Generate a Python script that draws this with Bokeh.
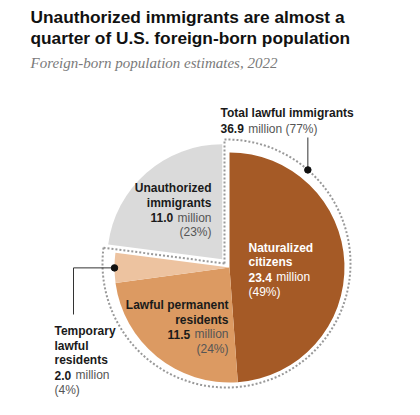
import math
import numpy as np
from bokeh.plotting import figure
from bokeh.models import Range1d
from bokeh.core.properties import value
from bokeh.embed import file_html
from bokeh.resources import INLINE

# ---------------- data ----------------
categories = ["Naturalized citizens", "Lawful permanent residents",
              "Temporary lawful residents", "Unauthorized immigrants"]
values = [23.4, 11.5, 2.0, 11.0]          # millions
percents = [49, 24, 4, 23]
colors = ["#A55A26", "#DC9A62", "#EDC3A0", "#DADADA"]
lawful_total = 36.9
lawful_pct = 77

title_lines = ["Unauthorized immigrants are almost a",
               "quarter of U.S. foreign-born population"]
subtitle = "Foreign-born population estimates, 2022"

# ---------------- layout ----------------
W, H = 404, 399
def Y(py):            # page pixel y -> data y
    return 415 - py

FONT = "Liberation Sans"
SERIF = "Liberation Serif"

p = figure(width=W, height=H, x_range=Range1d(8, 412), y_range=Range1d(8, 407),
           output_backend="svg", toolbar_location=None, min_border=0,
           x_axis_location=None, y_axis_location=None)
p.grid.visible = False
p.outline_line_color = None
p.background_fill_color = "white"

# pie geometry
CX, CY, R = 237, Y(275), 115
EXPLODE = 11

total = sum(values)
cum = np.concatenate([[0], np.cumsum(values)]) / total * 360.0   # clockwise from top
starts_cw, ends_cw = cum[:-1], cum[1:]

for i, cat in enumerate(categories):
    s, e = starts_cw[i], ends_cw[i]
    cx, cy = CX, CY
    if cat.startswith("Unauthorized"):
        mid = math.radians(90 - (s + e) / 2)
        cx += EXPLODE * math.cos(mid)
        cy += EXPLODE * math.sin(mid)
    p.wedge(x=[cx], y=[cy], radius=R,
            start_angle=math.radians(90 - s), end_angle=math.radians(90 - e),
            direction="clock", fill_color=colors[i], line_color=None)

# dotted outline around lawful immigrants
C2X, C2Y, R2 = 234, Y(271), 124
KX, KY = 232, Y(271)
lawful_end = ends_cw[2]
a0 = math.degrees(math.asin((KX - C2X) / R2))
sx, sy = C2X + R2 * math.sin(math.radians(a0)), C2Y + R2 * math.cos(math.radians(a0))
ex, ey = C2X + R2 * math.sin(math.radians(lawful_end)), C2Y + R2 * math.cos(math.radians(lawful_end))
dot_style = dict(line_color="#999999", line_width=2, line_dash="2 2")
p.arc(x=[C2X], y=[C2Y], radius=R2, start_angle=math.radians(90 - a0),
      end_angle=math.radians(90 - lawful_end), direction="clock", **dot_style)
p.segment(x0=[KX, KX], y0=[KY, KY], x1=[sx, ex], y1=[sy, ey], **dot_style)

# callout: total lawful
ang = math.radians(41)
dx_, dy_ = C2X + R2 * math.sin(ang), C2Y + R2 * math.cos(ang)
p.line(x=[dx_, dx_], y=[Y(145), dy_], line_color="#333333", line_width=1)
p.scatter(x=[dx_], y=[dy_], size=6.5, color="#111111")

# callout: temporary lawful residents
tm = math.radians((starts_cw[2] + ends_cw[2]) / 2)
tx, ty = CX + R * math.sin(tm), CY + R * math.cos(tm)
p.line(x=[tx, 81, 81], y=[ty, ty, Y(322)], line_color="#333333", line_width=1)
p.scatter(x=[tx], y=[ty], size=6.5, color="#111111")

# ---------------- text ----------------
W_REG = {"m": .833, "i": .222, "l": .222, "o": .556, "n": .556, " ": .278,
         "(": .333, ")": .333, "%": .889, ".": .278}
def width(s, size=12):
    return sum(W_REG.get(c, .556) for c in s) * size

def label(x, py, txt, size=12, bold=False, color="#1a1a1a", align="left",
          font=FONT, italic=False):
    style = "bold" if bold else ("italic" if italic else "normal")
    p.text(x=[x], y=[Y(py)], text=[txt], text_font=value(font),
           text_font_size=f"{size}px", text_font_style=style, text_color=color,
           text_align=align, text_baseline="alphabetic")

label(38, 24, title_lines[0], size=17.3, bold=True, color="#111111")
label(38, 45, title_lines[1], size=17.3, bold=True, color="#111111")
label(38, 70, subtitle, size=15, italic=True, color="#7a7a7a", font=SERIF)

GRAY = "#555555"
def num_line_left(x, py, num, rest, c_num="#1a1a1a", c_rest=GRAY):
    label(x, py, num, bold=True, color=c_num)
    label(x + width(num + " ") + 1, py, rest, color=c_rest)

def num_line_right(x, py, num, rest, c_num="#1a1a1a", c_rest=GRAY):
    label(x, py, rest, color=c_rest, align="right")
    label(x - width(" " + rest) - 1, py, num, bold=True, color=c_num, align="right")

# Total lawful immigrants
label(228, 120, "Total lawful immigrants", bold=True)
num_line_left(228, 136, f"{lawful_total:.1f}", f"million ({lawful_pct}%)")

# Unauthorized
label(219, 195, "Unauthorized", bold=True, align="right")
label(219, 210, "immigrants", bold=True, align="right")
num_line_right(219, 225, f"{values[3]:.1f}", "million")
label(219, 239.5, f"({percents[3]}%)", color=GRAY, align="right")

# Naturalized
label(256, 255, "Naturalized", bold=True, color="white")
label(256, 269.5, "citizens", bold=True, color="white")
num_line_left(256, 284.5, f"{values[0]:.1f}", "million", c_num="white", c_rest="white")
label(256, 299, f"({percents[0]}%)", color="white")

# Lawful permanent residents
label(236, 312.5, "Lawful permanent", bold=True, align="right")
label(236, 327, "residents", bold=True, align="right")
num_line_right(236, 341.5, f"{values[1]:.1f}", "million")
label(236, 356, f"({percents[1]}%)", color=GRAY, align="right")

# Temporary lawful residents
label(62, 338.5, "Temporary", bold=True)
label(62, 353, "lawful", bold=True)
label(62, 367.5, "residents", bold=True)
num_line_left(62, 382.5, f"{values[2]:.1f}", "million")
label(62, 397, f"({percents[2]}%)", color=GRAY)

open("out.html", "w").write(file_html(p, INLINE))
